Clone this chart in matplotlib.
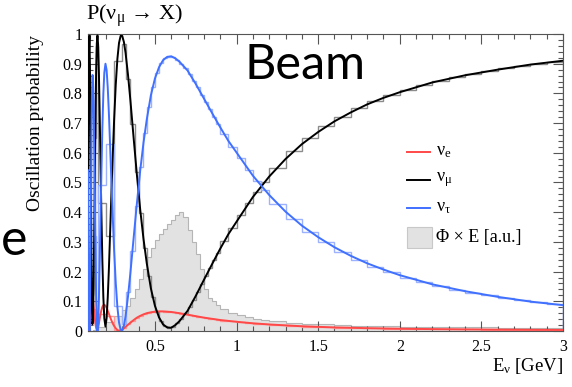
import matplotlib
matplotlib.use('Agg')
import matplotlib.pyplot as plt
from matplotlib.lines import Line2D
from matplotlib.patches import Rectangle
from matplotlib.ticker import MultipleLocator, FixedLocator, FuncFormatter

# ---------------- data ----------------
energy = [0.090, 0.093, 0.096, 0.099, 0.102, 0.105, 0.108, 0.111, 0.114, 0.117, 0.120,
          0.124, 0.128, 0.132, 0.136, 0.140, 0.144, 0.148, 0.152,
          0.157, 0.162, 0.167, 0.172,
          0.178, 0.184, 0.190,
          0.197, 0.204, 0.211, 0.218,
          0.226, 0.234, 0.242, 0.250,
          0.260, 0.270, 0.280, 0.290, 0.300, 0.310, 0.320,
          0.335, 0.350,
          0.37, 0.39, 0.41, 0.43, 0.45,
          0.475, 0.50, 0.525, 0.55, 0.575, 0.60, 0.625, 0.65,
          0.70, 0.75, 0.80, 0.85, 0.90, 0.95, 1.0,
          1.1, 1.2, 1.3, 1.4, 1.5, 1.6, 1.7, 1.8, 1.9, 2.0,
          2.2, 2.4, 2.6, 2.8, 3.0]

p_tau = [0.541, 0.258, 0.059, 0.001, 0.080, 0.251, 0.459, 0.652, 0.792, 0.862, 0.860,
         0.774, 0.609, 0.425, 0.247, 0.110, 0.027, 0.000, 0.024,
         0.111, 0.240, 0.386, 0.531,
         0.683, 0.799, 0.870,
         0.900, 0.879, 0.819, 0.733,
         0.615, 0.493, 0.379, 0.272,
         0.162, 0.081, 0.029, 0.004, 0.002, 0.018, 0.049,
         0.116, 0.197,
         0.316, 0.432, 0.541, 0.634, 0.712,
         0.793, 0.850, 0.888, 0.912, 0.923, 0.925, 0.918, 0.907,
         0.877, 0.832, 0.783, 0.734, 0.686, 0.640, 0.601,
         0.523, 0.458, 0.402, 0.355, 0.316, 0.282, 0.253, 0.228, 0.207, 0.188,
         0.157, 0.134, 0.115, 0.099, 0.087]

p_e = [0.060, 0.020, 0.002, 0.005, 0.030, 0.060, 0.090, 0.108, 0.117, 0.115, 0.105,
       0.085, 0.062, 0.040, 0.022, 0.010, 0.004, 0.005, 0.012,
       0.026, 0.042, 0.057, 0.070,
       0.081, 0.087, 0.088,
       0.085, 0.078, 0.068, 0.058,
       0.046, 0.035, 0.025, 0.017,
       0.009, 0.003, 0.001, 0.002, 0.005, 0.009, 0.014,
       0.021, 0.028,
       0.037, 0.045, 0.051, 0.056, 0.060,
       0.063, 0.065, 0.066, 0.066, 0.065, 0.064, 0.062, 0.060,
       0.055, 0.050, 0.045, 0.041, 0.037, 0.034, 0.031,
       0.026, 0.022, 0.019, 0.016, 0.014, 0.012, 0.011, 0.0095, 0.0085, 0.0077,
       0.0064, 0.0054, 0.0046, 0.0040, 0.0035]

p_mu = [0.399, 0.722, 0.939, 0.994, 0.890, 0.689, 0.451, 0.240, 0.091, 0.023, 0.035,
        0.141, 0.329, 0.535, 0.731, 0.880, 0.969, 0.995, 0.964,
        0.863, 0.718, 0.557, 0.399,
        0.236, 0.114, 0.042,
        0.015, 0.043, 0.113, 0.209,
        0.339, 0.472, 0.596, 0.711,
        0.829, 0.916, 0.970, 0.994, 0.993, 0.973, 0.937,
        0.863, 0.775,
        0.647, 0.523, 0.408, 0.310, 0.228,
        0.144, 0.085, 0.046, 0.022, 0.012, 0.011, 0.020, 0.033,
        0.068, 0.118, 0.172, 0.225, 0.277, 0.326, 0.368,
        0.451, 0.520, 0.579, 0.629, 0.670, 0.706, 0.736, 0.763, 0.785, 0.804,
        0.837, 0.861, 0.880, 0.897, 0.910]

bin_edges = [0.09, 0.10, 0.11, 0.12, 0.13, 0.14, 0.15,
             0.20, 0.25, 0.30,
             0.325, 0.35, 0.375, 0.40, 0.425, 0.45, 0.475, 0.50, 0.525, 0.55, 0.575, 0.60,
             0.625, 0.65, 0.675, 0.70, 0.725, 0.75, 0.775, 0.80, 0.825, 0.85, 0.875, 0.90,
             0.95, 1.00, 1.05, 1.10, 1.15, 1.20,
             1.3, 1.4, 1.5, 1.6, 1.7, 1.8, 1.9, 2.0, 2.1, 2.2, 2.3, 2.4, 2.5,
             2.6, 2.7, 2.8, 2.9, 3.0]

hist_mu = [0.78, 0.66, 0.12, 0.22, 0.65, 0.96,
           0.43, 0.32, 0.91,
           0.965, 0.848, 0.696, 0.536, 0.396, 0.278, 0.184, 0.114, 0.0645, 0.033, 0.0165, 0.0115,
           0.015, 0.026, 0.041, 0.059, 0.080, 0.106, 0.131, 0.159, 0.185, 0.212, 0.238, 0.264,
           0.302, 0.347, 0.39, 0.431, 0.469, 0.503,
           0.55, 0.605, 0.65, 0.689, 0.721, 0.75, 0.774, 0.795, 0.812, 0.829,
           0.843, 0.855, 0.866, 0.875, 0.884, 0.893, 0.900, 0.906]

hist_tau = [0.20, 0.28, 0.78, 0.71, 0.32, 0.03,
            0.49, 0.63, 0.085,
            0.025, 0.13, 0.27, 0.42, 0.552, 0.665, 0.755, 0.822, 0.870, 0.901, 0.918, 0.924,
            0.922, 0.913, 0.900, 0.885, 0.866, 0.843, 0.820, 0.795, 0.771, 0.746, 0.722, 0.698,
            0.663, 0.620, 0.581, 0.542, 0.506, 0.474,
            0.429, 0.378, 0.335, 0.298, 0.267, 0.240, 0.217, 0.197, 0.180, 0.164,
            0.151, 0.139, 0.129, 0.120, 0.111, 0.103, 0.096, 0.090]

hist_e = [0.02, 0.06, 0.11, 0.075, 0.03, 0.006,
          0.057, 0.052, 0.005,
          0.010, 0.022, 0.034, 0.044, 0.052, 0.057, 0.061, 0.064, 0.0655, 0.066, 0.0655, 0.0645,
          0.063, 0.061, 0.0588, 0.0563, 0.0538, 0.0513, 0.0488, 0.046, 0.044, 0.042, 0.040, 0.038,
          0.035, 0.032, 0.030, 0.027, 0.025, 0.023,
          0.020, 0.017, 0.015, 0.013, 0.0115, 0.010, 0.009, 0.008, 0.0074, 0.0068,
          0.0062, 0.0057, 0.0052, 0.0048, 0.0044, 0.0041, 0.0038, 0.0036]

flux_e = [0.0, 0.0, 0.001, 0.002, 0.003, 0.005,
          0.012, 0.03, 0.05,
          0.07, 0.085, 0.11, 0.14, 0.175, 0.21, 0.25, 0.28, 0.305, 0.325, 0.345, 0.36,
          0.375, 0.39, 0.40, 0.385, 0.34, 0.30, 0.26, 0.21, 0.14, 0.11, 0.10, 0.088,
          0.075, 0.062, 0.053, 0.046, 0.042, 0.038,
          0.033, 0.028, 0.025, 0.022, 0.020, 0.018, 0.017, 0.016, 0.015, 0.014,
          0.013, 0.013, 0.012, 0.012, 0.011, 0.011, 0.010, 0.010]

x_ticks = [0.5, 1.0, 1.5, 2.0, 2.5, 3.0]
legend_labels = ['ν$_\\mathrm{e}$', 'ν$_\\mathrm{μ}$', 'ν$_\\mathrm{τ}$', 'Φ × E [a.u.]']

# ---------------- style ----------------
plt.rcParams['font.family'] = ['Liberation Serif', 'DejaVu Serif']
plt.rcParams['mathtext.fontset'] = 'custom'
plt.rcParams['mathtext.rm'] = 'Liberation Serif'
plt.rcParams['mathtext.it'] = 'Liberation Serif:italic'
plt.rcParams['mathtext.fallback'] = 'stix'

W, H = 572, 387
fig = plt.figure(figsize=(W / 100, H / 100), dpi=100)
L, R, T, B = 88, 563, 34, 331
ax = fig.add_axes([L / W, 1 - B / H, (R - L) / W, (B - T) / H])

c_red, c_blk, c_blu = '#ff4848', '#000000', '#4070ff'

ax.stairs(flux_e, bin_edges, fill=True, facecolor='#e2e2e2', edgecolor='none', zorder=1)
ax.stairs(flux_e, bin_edges, color='#b5b5b5', lw=0.8, zorder=1.1)
ax.stairs(hist_e, bin_edges, color='#ff9c9c', lw=1.0, zorder=2)
ax.stairs(hist_mu, bin_edges, color='#8c8c8c', lw=1.0, zorder=2)
ax.stairs(hist_tau, bin_edges, color='#9cb2ff', lw=1.0, zorder=2)
ax.plot(energy, p_e, color=c_red, lw=1.4, zorder=3)
ax.plot(energy, p_mu, color=c_blk, lw=1.4, zorder=3)
ax.plot(energy, p_tau, color=c_blu, lw=1.4, zorder=3)

ax.set_xlim(bin_edges[0], bin_edges[-1])
ax.set_ylim(0, 1)
ax.xaxis.set_major_locator(FixedLocator(x_ticks))
ax.xaxis.set_minor_locator(MultipleLocator(0.1))
ax.yaxis.set_major_locator(MultipleLocator(0.1))
ax.yaxis.set_minor_locator(MultipleLocator(0.02))
fmt = FuncFormatter(lambda v, p: ('%g' % round(v, 3)))
ax.xaxis.set_major_formatter(fmt)
ax.yaxis.set_major_formatter(fmt)
ax.tick_params(which='both', direction='in', top=True, right=True, color='#555555', width=0.8)
ax.tick_params(which='major', length=7, labelsize=11.5)
ax.tick_params(which='minor', length=3.5)
ax.tick_params(axis='x', pad=6)
ax.tick_params(axis='y', pad=4)
for s in ax.spines.values():
    s.set_color('#555555')
    s.set_linewidth(0.8)

fig.text(86 / W, 1 - 16 / H, 'P(ν$_\\mathrm{μ}$ → X)', fontsize=16, ha='left', va='center')
fig.text(36 / W, 1 - 35 / H, 'Oscillation probability', rotation=90, fontsize=14,
         ha='center', va='top')
fig.text(R / W, 1 - 366 / H, 'E$_\\mathrm{ν}$ [GeV]', fontsize=13.5, ha='right', va='center')
fig.text(305 / W, 1 - 65 / H, 'Beam', family='Lato', fontsize=35, ha='center', va='center')
fig.text(0.5 / W, 1 - 241 / H, 'e', family='Lato', fontsize=36, ha='left', va='center')

# legend (drawn by hand, ROOT style)
leg_y = [152, 180, 208, 238]
leg_cols = [c_red, c_blk, c_blu]
for yy, col in zip(leg_y[:3], leg_cols):
    fig.add_artist(Line2D([407 / W, 430 / W], [1 - yy / H, 1 - yy / H], color=col, lw=1.4))
fig.add_artist(Rectangle((407 / W, 1 - 248 / H), 25 / W, 21 / H, facecolor='#e2e2e2',
                         edgecolor='#c8c8c8', lw=0.8, transform=fig.transFigure))
for yy, lab in zip(leg_y, legend_labels):
    fig.text(436 / W, 1 - yy / H, lab, fontsize=13, ha='left', va='center')

fig.savefig('out.png', dpi=100)
